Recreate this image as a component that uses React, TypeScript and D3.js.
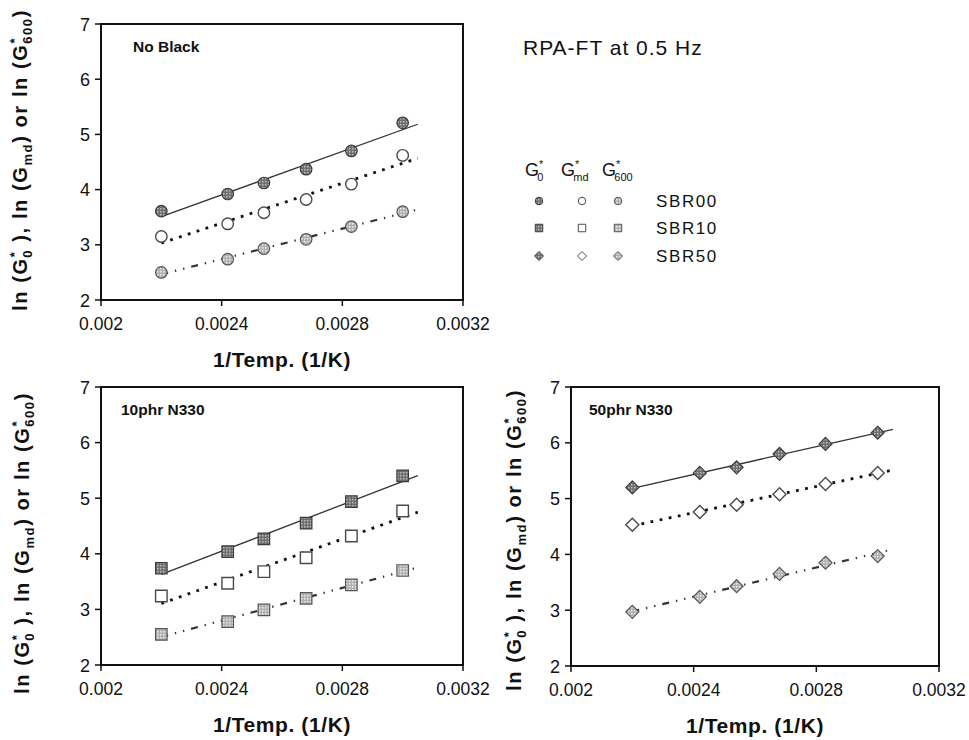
import React, { useEffect, useRef } from "react";
import * as d3 from "d3";

// 1/T values shared by every series
const INV_TEMP = [0.0022, 0.00242, 0.00254, 0.00268, 0.00283, 0.003];

// No Black (SBR00)
const SBR00_G0 = [3.61, 3.92, 4.12, 4.37, 4.7, 5.21];
const SBR00_GMD = [3.15, 3.38, 3.58, 3.82, 4.1, 4.62];
const SBR00_G600 = [2.5, 2.74, 2.93, 3.1, 3.33, 3.6];

// 10phr N330 (SBR10)
const SBR10_G0 = [3.74, 4.04, 4.27, 4.55, 4.94, 5.4];
const SBR10_GMD = [3.24, 3.47, 3.68, 3.93, 4.32, 4.77];
const SBR10_G600 = [2.55, 2.78, 2.99, 3.2, 3.44, 3.7];

// 50phr N330 (SBR50)
const SBR50_G0 = [5.2, 5.46, 5.56, 5.8, 5.98, 6.18];
const SBR50_GMD = [4.53, 4.76, 4.89, 5.08, 5.26, 5.46];
const SBR50_G600 = [2.97, 3.24, 3.43, 3.65, 3.85, 3.97];

const X_TICKS = [0.002, 0.0024, 0.0028, 0.0032];
const Y_TICKS = [2, 3, 4, 5, 6, 7];
const FIT_RANGE = [0.0022, 0.00305];
const LEGEND_ROWS = ["SBR00", "SBR10", "SBR50"];

const FONT = "'Liberation Sans', Arial, sans-serif";

// marker look per modulus
const STYLE = {
    g0:   { fill: "url(#pat-g0)",   stroke: "#3a3a3a", sw: 1.2 },
    gmd:  { fill: "#ffffff",        stroke: "#4a4a4a", sw: 1.4 },
    g600: { fill: "url(#pat-g600)", stroke: "#555555", sw: 1.2 },
};

// fit-line look per modulus
const LINE = {
    g0:   { stroke: "#333", width: 1.3, dash: null },
    gmd:  { stroke: "#111", width: 2.8, dash: "2.8,6.5" },
    g600: { stroke: "#333", width: 2.2, dash: "7,7,1.4,7,1.4,7" },
};

const PANELS = [
    { label: "No Black",   shape: "circle",  size: 11.5, box: [101, 463, 24, 300],  labelDx: 32, yLabX: 27,  yLabCy: 160,
      series: [["g0", SBR00_G0], ["gmd", SBR00_GMD], ["g600", SBR00_G600]] },
    { label: "10phr N330", shape: "square",  size: 11.5, box: [101, 463, 387, 665], labelDx: 20, yLabX: 29,  yLabCy: 543,
      series: [["g0", SBR10_G0], ["gmd", SBR10_GMD], ["g600", SBR10_G600]] },
    { label: "50phr N330", shape: "diamond", size: 13,   box: [571, 939, 387, 666], labelDx: 18, yLabX: 521, yLabCy: 540,
      series: [["g0", SBR50_G0], ["gmd", SBR50_GMD], ["g600", SBR50_G600]] },
];

function markerPath(shape, cx, cy, s) {
    const h = s / 2;
    if (shape === "circle") {
        const p = d3.path();
        p.arc(cx, cy, h, 0, Math.PI * 2);
        return p.toString();
    }
    if (shape === "square") {
        return `M${cx - h},${cy - h}H${cx + h}V${cy + h}H${cx - h}Z`;
    }
    return `M${cx},${cy - h}L${cx + h},${cy}L${cx},${cy + h}L${cx - h},${cy}Z`;
}

function fit(xs, ys) {
    const mx = d3.mean(xs), my = d3.mean(ys);
    let sxy = 0, sxx = 0;
    xs.forEach((x, i) => { sxy += (x - mx) * (ys[i] - my); sxx += (x - mx) ** 2; });
    const b = sxy / sxx;
    return (x) => my + b * (x - mx);
}

// rich text made of segments [text, size, dy, dx]
function richText(sel, segs) {
    segs.forEach(([t, fs, dy, dx]) => {
        sel.append("tspan")
            .attr("font-size", fs)
            .attr("dy", dy || 0)
            .attr("dx", dx || 0)
            .text(t);
    });
}

const App = () => {
    const svgRef = useRef(null);

    useEffect(() => {
        const svg = d3.select(svgRef.current);
        svg.selectAll("*").remove();

        // ── Patterns ─────────────────────────────────────────────
        const defs = svg.append("defs");
        const mkPat = (id, a, b) => {
            const p = defs.append("pattern").attr("id", id)
                .attr("width", 3).attr("height", 3)
                .attr("patternUnits", "userSpaceOnUse");
            p.append("rect").attr("width", 3).attr("height", 3).attr("fill", a);
            p.append("rect").attr("x", 1).attr("y", 1).attr("width", 1.5).attr("height", 1.5).attr("fill", b);
        };
        mkPat("pat-g0", "#6e6e6e", "#bdbdbd");
        mkPat("pat-g600", "#b0b0b0", "#ececec");

        // ── Panels ───────────────────────────────────────────────
        PANELS.forEach((pn) => {
            const [x0, x1, y0, y1] = pn.box;
            const x = d3.scaleLinear().domain([0.002, 0.0032]).range([x0, x1]);
            const y = d3.scaleLinear().domain([2, 7]).range([y1, y0]);
            const g = svg.append("g");

            // fit lines
            pn.series.forEach(([key, vals]) => {
                const f = fit(INV_TEMP, vals);
                const st = LINE[key];
                g.append("line")
                    .attr("x1", x(FIT_RANGE[0])).attr("y1", y(f(FIT_RANGE[0])))
                    .attr("x2", x(FIT_RANGE[1])).attr("y2", y(f(FIT_RANGE[1])))
                    .attr("stroke", st.stroke)
                    .attr("stroke-width", st.width)
                    .attr("stroke-dasharray", st.dash);
            });

            // markers
            pn.series.forEach(([key, vals]) => {
                const st = STYLE[key];
                vals.forEach((v, i) => {
                    g.append("path")
                        .attr("d", markerPath(pn.shape, x(INV_TEMP[i]), y(v), pn.size))
                        .attr("fill", st.fill)
                        .attr("stroke", st.stroke)
                        .attr("stroke-width", st.sw);
                });
            });

            // frame
            g.append("rect")
                .attr("x", x0).attr("y", y0)
                .attr("width", x1 - x0).attr("height", y1 - y0)
                .attr("fill", "none").attr("stroke", "#111").attr("stroke-width", 2);

            // y ticks
            Y_TICKS.forEach((t) => {
                g.append("line")
                    .attr("x1", x0 - 6).attr("x2", x0)
                    .attr("y1", y(t)).attr("y2", y(t))
                    .attr("stroke", "#111").attr("stroke-width", 1.5);
                g.append("text")
                    .attr("x", x0 - 11).attr("y", y(t) + 6.5)
                    .attr("text-anchor", "end")
                    .attr("font-size", 18).attr("font-family", FONT).attr("fill", "#111")
                    .text(t);
            });

            // x ticks
            X_TICKS.forEach((t) => {
                g.append("line")
                    .attr("x1", x(t)).attr("x2", x(t))
                    .attr("y1", y1).attr("y2", y1 + 6)
                    .attr("stroke", "#111").attr("stroke-width", 1.5);
                g.append("text")
                    .attr("x", x(t)).attr("y", y1 + 30)
                    .attr("text-anchor", "middle")
                    .attr("font-size", 17.5).attr("font-family", FONT).attr("fill", "#111")
                    .text(String(t));
            });

            // panel label
            g.append("text")
                .attr("x", x0 + pn.labelDx).attr("y", y0 + 28)
                .attr("font-size", 15.5).attr("font-weight", "bold")
                .attr("font-family", FONT).attr("fill", "#111")
                .text(pn.label);

            // x title
            g.append("text")
                .attr("x", (x0 + x1) / 2).attr("y", y1 + 67)
                .attr("text-anchor", "middle")
                .attr("font-size", 21).attr("font-weight", "bold")
                .attr("letter-spacing", 0.6)
                .attr("font-family", FONT).attr("fill", "#111")
                .text("1/Temp. (1/K)");

            // y title
            const yt = g.append("text")
                .attr("transform", `translate(${pn.yLabX},${pn.yLabCy}) rotate(-90)`)
                .attr("text-anchor", "middle")
                .attr("font-weight", "bold")
                .attr("letter-spacing", 1.6)
                .attr("font-family", FONT).attr("fill", "#111");
            richText(yt, [
                ["ln (G", 20, 0],
                ["*", 13, -8],
                ["0", 13, 13, -7],
                [" ),  ln (G", 20, -5],
                ["md", 13, 5],
                [") or ln (G", 20, -5],
                ["*", 13, -8],
                ["600", 13, 13, -7],
                [")", 20, -5],
            ]);
        });

        // ── Title ────────────────────────────────────────────────
        svg.append("text")
            .attr("x", 523).attr("y", 55)
            .attr("font-size", 21).attr("letter-spacing", 1)
            .attr("font-family", FONT).attr("fill", "#111")
            .text("RPA-FT at 0.5 Hz");

        // ── Legend ───────────────────────────────────────────────
        const lg = svg.append("g");
        const heads = [[525, "0"], [561, "md"], [602, "600"]];
        heads.forEach(([hx, sub]) => {
            const t = lg.append("text")
                .attr("x", hx).attr("y", 176)
                .attr("font-family", FONT).attr("fill", "#111");
            richText(t, [
                ["G", 18, 0],
                ["*", 11, -8],
                [sub, 11, 13, -6],
            ]);
        });
        const cols = [["g0", 539], ["gmd", 582], ["g600", 618]];
        const shapes = ["circle", "square", "diamond"];
        const rowY = [201, 228, 256];
        LEGEND_ROWS.forEach((name, r) => {
            cols.forEach(([key, cx]) => {
                const st = STYLE[key];
                lg.append("path")
                    .attr("d", markerPath(shapes[r], cx, rowY[r], r === 2 ? 9 : 7.5))
                    .attr("fill", st.fill)
                    .attr("stroke", st.stroke)
                    .attr("stroke-width", 1);
            });
            lg.append("text")
                .attr("x", 656).attr("y", rowY[r] + 6)
                .attr("font-size", 17).attr("letter-spacing", 1.6)
                .attr("font-family", FONT).attr("fill", "#111")
                .text(name);
        });
    }, []);

    return (
        <svg
            ref={svgRef}
            width={969}
            height={740}
            style={{ position: "absolute", left: 0, top: 0, background: "#fff" }}
        />
    );
};

export default App;
